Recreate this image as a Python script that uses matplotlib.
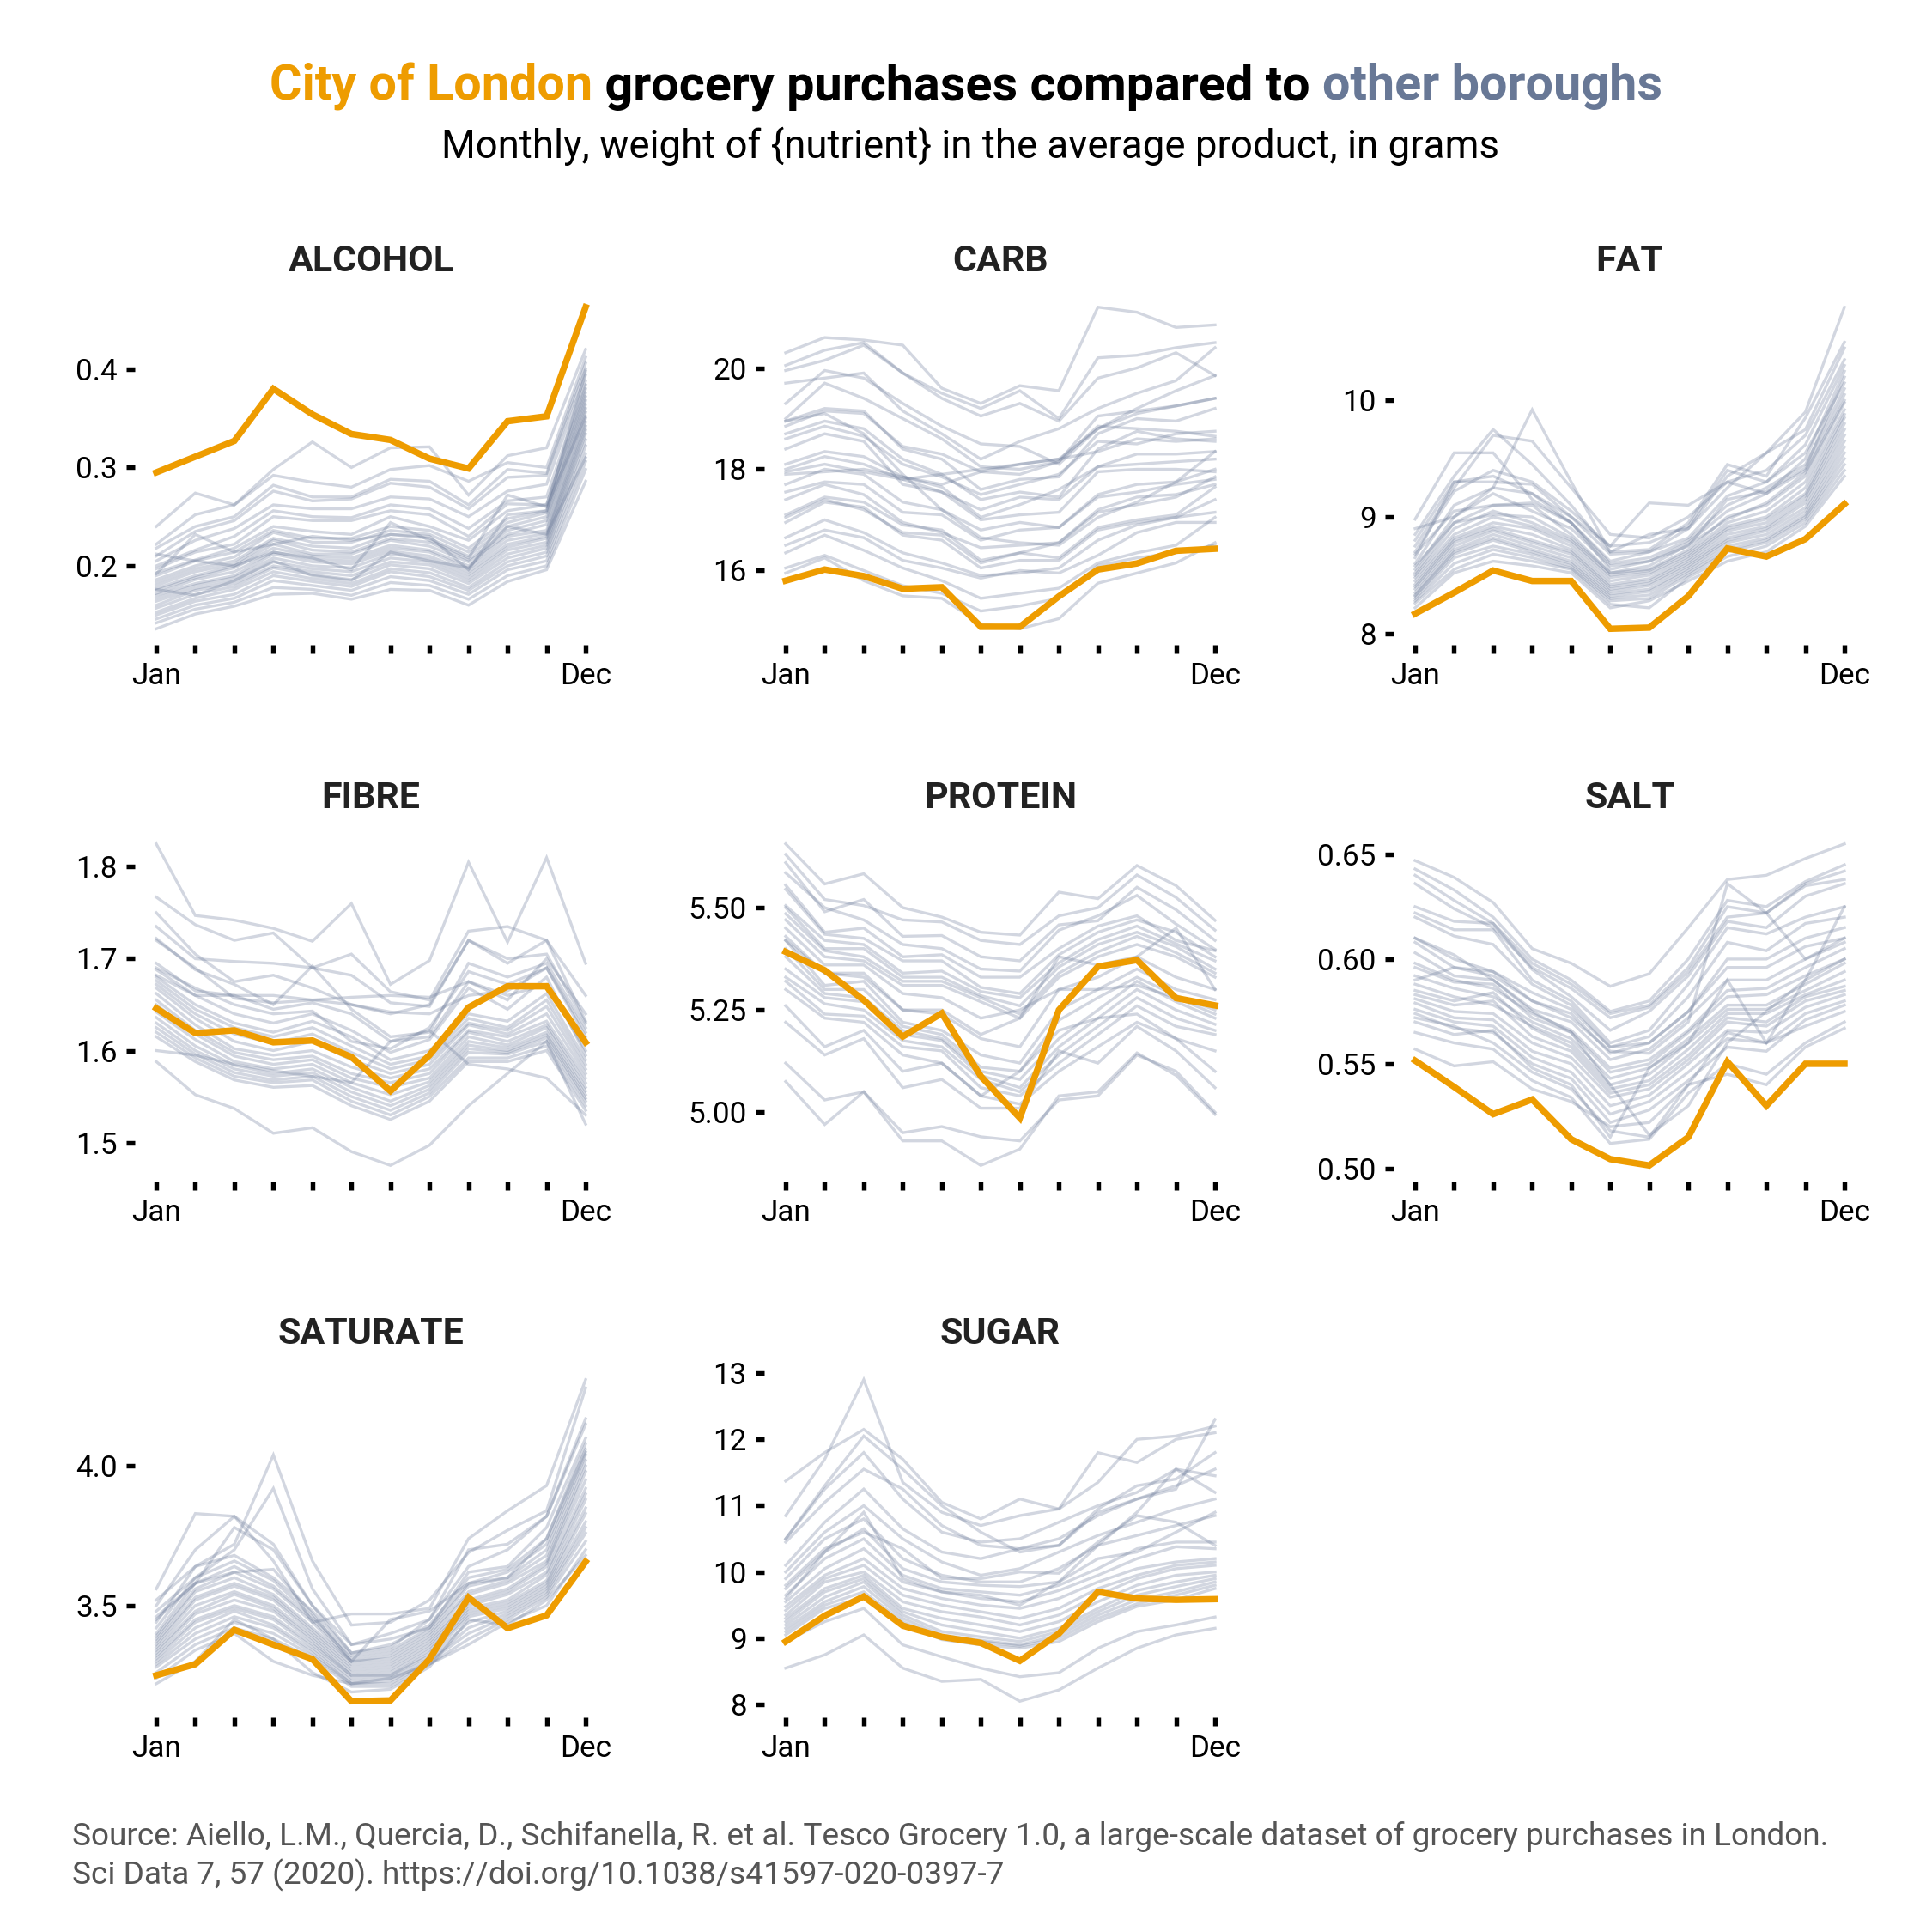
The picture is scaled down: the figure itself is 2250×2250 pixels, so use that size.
import matplotlib
matplotlib.use("Agg")
import matplotlib.pyplot as plt

# cores
ORANGE = "#EE9C00"
SLATE = "#687896"
GREY = "#6B7A99"

months = ["Jan", "Feb", "Mar", "Apr", "May", "Jun", "Jul", "Aug", "Sep", "Oct", "Nov", "Dec"]
month_labels = ["Jan", "", "", "", "", "", "", "", "", "", "", "Dec"]

# City of London, valores mensais
alcohol_city = [0.295, 0.311, 0.327, 0.380, 0.354, 0.334, 0.328, 0.309, 0.299, 0.347, 0.352, 0.463]
carb_city = [15.80, 16.02, 15.89, 15.64, 15.67, 14.89, 14.89, 15.49, 16.02, 16.14, 16.39, 16.43]
fat_city = [8.17, 8.35, 8.54, 8.45, 8.45, 8.04, 8.05, 8.32, 8.73, 8.66, 8.81, 9.11]
fibre_city = [1.646, 1.619, 1.622, 1.609, 1.611, 1.593, 1.556, 1.595, 1.647, 1.670, 1.670, 1.609]
protein_city = [5.392, 5.347, 5.274, 5.185, 5.242, 5.088, 4.986, 5.250, 5.356, 5.372, 5.279, 5.261]
salt_city = [0.5515, 0.539, 0.526, 0.533, 0.514, 0.5045, 0.5015, 0.515, 0.551, 0.530, 0.550, 0.550]
saturate_city = [3.25, 3.29, 3.413, 3.36, 3.308, 3.157, 3.16, 3.308, 3.529, 3.419, 3.465, 3.657]
sugar_city = [8.95, 9.34, 9.63, 9.19, 9.02, 8.93, 8.66, 9.07, 9.70, 9.60, 9.58, 9.59]

# outros boroughs
alcohol_others = [
    [0.240, 0.274, 0.262, 0.298, 0.326, 0.300, 0.320, 0.321, 0.272, 0.312, 0.320, 0.420],
    [0.222, 0.252, 0.262, 0.292, 0.285, 0.280, 0.298, 0.302, 0.286, 0.305, 0.300, 0.412],
    [0.218, 0.240, 0.250, 0.282, 0.270, 0.270, 0.288, 0.286, 0.262, 0.298, 0.294, 0.406],
    [0.210, 0.235, 0.246, 0.276, 0.266, 0.268, 0.284, 0.280, 0.258, 0.290, 0.292, 0.400],
    [0.205, 0.226, 0.238, 0.262, 0.258, 0.258, 0.270, 0.268, 0.250, 0.276, 0.283, 0.394],
    [0.200, 0.216, 0.230, 0.256, 0.250, 0.249, 0.262, 0.258, 0.238, 0.266, 0.270, 0.388],
    [0.197, 0.214, 0.222, 0.250, 0.246, 0.246, 0.256, 0.252, 0.230, 0.263, 0.262, 0.384],
    [0.193, 0.206, 0.218, 0.240, 0.235, 0.232, 0.250, 0.240, 0.226, 0.256, 0.262, 0.380],
    [0.190, 0.205, 0.214, 0.236, 0.228, 0.228, 0.240, 0.236, 0.218, 0.248, 0.256, 0.376],
    [0.186, 0.200, 0.209, 0.234, 0.224, 0.224, 0.236, 0.232, 0.214, 0.244, 0.254, 0.372],
    [0.183, 0.197, 0.205, 0.228, 0.220, 0.218, 0.232, 0.228, 0.210, 0.240, 0.250, 0.368],
    [0.180, 0.194, 0.202, 0.226, 0.216, 0.214, 0.228, 0.224, 0.206, 0.236, 0.246, 0.364],
    [0.177, 0.190, 0.200, 0.222, 0.212, 0.212, 0.226, 0.220, 0.204, 0.232, 0.242, 0.360],
    [0.175, 0.188, 0.198, 0.218, 0.210, 0.208, 0.221, 0.216, 0.200, 0.230, 0.236, 0.356],
    [0.172, 0.186, 0.194, 0.214, 0.207, 0.205, 0.218, 0.214, 0.197, 0.226, 0.233, 0.350],
    [0.170, 0.182, 0.190, 0.212, 0.204, 0.202, 0.215, 0.210, 0.194, 0.222, 0.230, 0.346],
    [0.167, 0.180, 0.188, 0.208, 0.200, 0.198, 0.212, 0.207, 0.191, 0.219, 0.228, 0.342],
    [0.164, 0.177, 0.185, 0.204, 0.197, 0.194, 0.208, 0.204, 0.188, 0.216, 0.224, 0.338],
    [0.160, 0.175, 0.182, 0.200, 0.194, 0.190, 0.204, 0.201, 0.185, 0.212, 0.221, 0.334],
    [0.157, 0.171, 0.179, 0.198, 0.191, 0.186, 0.201, 0.197, 0.182, 0.208, 0.218, 0.328],
    [0.153, 0.167, 0.176, 0.194, 0.187, 0.182, 0.197, 0.193, 0.178, 0.204, 0.214, 0.322],
    [0.150, 0.164, 0.171, 0.190, 0.184, 0.179, 0.194, 0.189, 0.175, 0.200, 0.210, 0.314],
    [0.146, 0.160, 0.167, 0.185, 0.180, 0.175, 0.189, 0.185, 0.171, 0.196, 0.205, 0.306],
    [0.142, 0.156, 0.163, 0.178, 0.176, 0.170, 0.183, 0.180, 0.166, 0.190, 0.200, 0.298],
    [0.136, 0.151, 0.159, 0.171, 0.172, 0.166, 0.176, 0.175, 0.160, 0.184, 0.196, 0.286],
    [0.212, 0.205, 0.200, 0.214, 0.208, 0.196, 0.244, 0.226, 0.208, 0.272, 0.260, 0.352],
    [0.192, 0.232, 0.214, 0.222, 0.230, 0.226, 0.232, 0.230, 0.196, 0.252, 0.256, 0.398],
    [0.176, 0.170, 0.185, 0.205, 0.190, 0.185, 0.214, 0.205, 0.198, 0.240, 0.232, 0.310],
]

carb_others = [
    [20.30, 20.60, 20.55, 20.45, 19.60, 19.30, 19.65, 19.55, 21.20, 21.10, 20.80, 20.85],
    [20.05, 20.35, 20.50, 19.90, 19.50, 19.20, 19.55, 19.00, 20.20, 20.25, 20.40, 20.50],
    [19.95, 20.15, 20.45, 19.90, 19.40, 19.05, 19.30, 18.95, 19.80, 20.00, 20.30, 19.85],
    [19.70, 19.80, 19.90, 19.15, 18.70, 18.20, 18.55, 18.80, 19.20, 19.50, 19.75, 20.40],
    [19.30, 19.95, 19.80, 19.30, 18.85, 18.50, 18.45, 18.10, 18.80, 19.20, 19.55, 19.85],
    [19.00, 19.70, 19.40, 19.00, 18.60, 18.05, 18.00, 18.15, 19.05, 19.15, 19.25, 19.40],
    [18.95, 19.20, 19.15, 18.40, 18.20, 17.60, 17.80, 17.85, 18.70, 19.00, 18.95, 19.20],
    [18.85, 19.15, 19.10, 18.45, 18.30, 17.95, 17.90, 18.15, 18.85, 18.80, 18.75, 18.65],
    [18.70, 18.95, 18.80, 18.20, 17.90, 17.40, 17.55, 17.45, 18.40, 18.75, 18.60, 18.55],
    [18.60, 18.85, 18.65, 18.10, 17.85, 17.50, 17.70, 17.90, 18.55, 18.50, 18.70, 18.75],
    [18.40, 18.70, 18.55, 17.70, 17.55, 17.20, 17.45, 17.40, 18.05, 18.30, 18.30, 18.35],
    [18.10, 18.35, 18.25, 17.85, 17.65, 17.05, 17.30, 17.60, 18.05, 18.10, 18.15, 18.20],
    [18.00, 18.25, 18.10, 17.80, 17.90, 18.00, 18.10, 18.20, 18.35, 18.60, 18.55, 18.60],
    [17.95, 18.10, 17.95, 17.80, 17.55, 17.00, 17.10, 17.15, 17.95, 18.00, 18.00, 17.95],
    [17.70, 18.00, 17.90, 17.35, 17.20, 16.80, 16.95, 16.85, 17.50, 17.70, 17.75, 18.00],
    [17.55, 17.75, 17.70, 17.15, 17.10, 16.60, 16.80, 16.85, 17.45, 17.55, 17.70, 17.80],
    [17.40, 17.70, 17.50, 16.95, 16.75, 16.45, 16.50, 16.55, 17.20, 17.45, 17.50, 17.70],
    [17.10, 17.45, 17.35, 16.90, 16.80, 16.20, 16.35, 16.55, 17.15, 17.30, 17.45, 17.85],
    [17.05, 17.40, 17.20, 16.75, 16.70, 16.15, 16.35, 16.25, 16.85, 17.00, 17.10, 17.65],
    [16.95, 17.35, 17.25, 16.70, 16.60, 16.05, 16.20, 16.20, 16.80, 16.95, 17.05, 17.40],
    [16.65, 17.00, 16.75, 16.35, 16.15, 15.90, 15.95, 16.05, 16.60, 16.90, 17.05, 17.15],
    [16.50, 16.80, 16.65, 16.20, 16.05, 15.85, 16.00, 15.95, 16.30, 16.75, 16.95, 16.95],
    [16.35, 16.70, 16.40, 16.05, 15.80, 15.45, 15.55, 15.65, 16.15, 16.35, 16.50, 17.05],
    [16.05, 16.30, 16.00, 15.70, 15.55, 15.20, 15.30, 15.45, 16.10, 16.25, 16.35, 16.50],
    [15.95, 16.25, 15.80, 15.50, 15.45, 14.95, 14.85, 15.05, 15.75, 15.95, 16.15, 16.55],
    [18.95, 19.10, 18.70, 17.90, 17.20, 16.65, 16.55, 16.50, 17.05, 17.35, 17.75, 18.35],
    [17.90, 17.95, 18.00, 17.85, 17.70, 17.95, 18.10, 18.20, 18.80, 19.10, 19.25, 19.40],
]

fat_others = [
    [8.98, 9.55, 9.55, 9.15, 8.95, 8.62, 8.70, 8.90, 9.25, 9.55, 9.90, 10.80],
    [8.85, 9.35, 9.75, 9.45, 9.10, 8.70, 8.72, 8.95, 9.45, 9.35, 9.85, 10.50],
    [8.90, 9.00, 9.25, 9.92, 9.30, 8.70, 8.85, 8.90, 9.35, 9.55, 9.75, 10.45],
    [8.75, 9.25, 9.70, 9.65, 9.25, 8.85, 8.82, 9.00, 9.30, 9.40, 9.70, 10.35],
    [8.70, 9.22, 9.40, 9.30, 9.05, 8.75, 9.12, 9.10, 9.30, 9.20, 9.50, 10.25],
    [8.65, 9.30, 9.35, 9.20, 9.00, 8.68, 8.70, 8.82, 9.18, 9.30, 9.55, 10.15],
    [8.60, 9.10, 9.25, 9.20, 8.95, 8.60, 8.65, 8.80, 9.10, 9.25, 9.45, 10.10],
    [8.55, 9.00, 9.20, 9.05, 8.90, 8.58, 8.62, 8.78, 9.05, 9.20, 9.40, 10.05],
    [8.52, 8.95, 9.10, 9.10, 8.85, 8.52, 8.55, 8.72, 9.00, 9.10, 9.35, 9.98],
    [8.50, 8.90, 9.05, 8.95, 8.80, 8.50, 8.54, 8.70, 8.95, 9.05, 9.30, 9.92],
    [8.48, 8.85, 9.00, 8.92, 8.78, 8.48, 8.52, 8.68, 8.92, 9.00, 9.25, 9.88],
    [8.45, 8.82, 8.95, 8.90, 8.75, 8.45, 8.50, 8.66, 8.90, 8.98, 9.20, 9.85],
    [8.42, 8.80, 8.92, 8.85, 8.72, 8.42, 8.47, 8.64, 8.88, 8.95, 9.18, 9.80],
    [8.40, 8.78, 8.90, 8.80, 8.70, 8.40, 8.45, 8.62, 8.85, 8.92, 9.15, 9.75],
    [8.38, 8.75, 8.88, 8.78, 8.68, 8.38, 8.43, 8.60, 8.82, 8.90, 9.12, 9.70],
    [8.35, 8.72, 8.85, 8.75, 8.65, 8.36, 8.41, 8.58, 8.80, 8.88, 9.08, 9.65],
    [8.33, 8.70, 8.82, 8.72, 8.62, 8.34, 8.38, 8.56, 8.78, 8.85, 9.05, 9.60],
    [8.32, 8.68, 8.80, 8.70, 8.60, 8.32, 8.36, 8.54, 8.75, 8.82, 9.02, 9.55],
    [8.30, 8.65, 8.75, 8.68, 8.58, 8.30, 8.33, 8.52, 8.72, 8.80, 9.00, 9.50],
    [8.28, 8.60, 8.72, 8.65, 8.56, 8.28, 8.30, 8.50, 8.70, 8.78, 8.98, 9.45],
    [8.26, 8.55, 8.68, 8.62, 8.55, 8.25, 8.22, 8.48, 8.66, 8.75, 8.95, 9.40],
    [8.22, 8.52, 8.62, 8.58, 8.52, 8.22, 8.28, 8.45, 8.62, 8.70, 8.92, 9.35],
    [8.80, 9.30, 9.30, 9.28, 9.00, 8.75, 8.78, 8.92, 9.40, 9.30, 9.62, 10.30],
    [8.68, 9.05, 9.10, 9.12, 8.95, 8.55, 8.62, 8.75, 9.15, 9.22, 9.42, 10.20],
    [8.58, 8.95, 9.02, 9.00, 8.82, 8.52, 8.58, 8.76, 8.98, 9.12, 9.38, 10.00],
]

fibre_others = [
    [1.825, 1.747, 1.742, 1.733, 1.719, 1.760, 1.672, 1.698, 1.805, 1.718, 1.810, 1.695],
    [1.767, 1.737, 1.720, 1.728, 1.690, 1.705, 1.664, 1.655, 1.730, 1.735, 1.720, 1.660],
    [1.750, 1.705, 1.675, 1.682, 1.668, 1.650, 1.640, 1.650, 1.720, 1.695, 1.720, 1.632],
    [1.735, 1.700, 1.697, 1.695, 1.690, 1.682, 1.652, 1.648, 1.720, 1.700, 1.705, 1.630],
    [1.722, 1.688, 1.672, 1.650, 1.692, 1.645, 1.615, 1.620, 1.695, 1.680, 1.695, 1.625],
    [1.720, 1.690, 1.657, 1.652, 1.655, 1.650, 1.642, 1.640, 1.660, 1.665, 1.690, 1.620],
    [1.695, 1.665, 1.660, 1.645, 1.652, 1.640, 1.610, 1.615, 1.675, 1.660, 1.672, 1.600],
    [1.688, 1.660, 1.640, 1.630, 1.640, 1.622, 1.598, 1.612, 1.668, 1.645, 1.680, 1.595],
    [1.680, 1.650, 1.630, 1.620, 1.632, 1.615, 1.590, 1.600, 1.640, 1.632, 1.662, 1.590],
    [1.676, 1.645, 1.625, 1.615, 1.625, 1.605, 1.585, 1.594, 1.635, 1.625, 1.655, 1.585],
    [1.672, 1.640, 1.618, 1.608, 1.618, 1.598, 1.580, 1.590, 1.630, 1.622, 1.648, 1.580],
    [1.668, 1.635, 1.610, 1.600, 1.610, 1.590, 1.575, 1.585, 1.628, 1.618, 1.640, 1.575],
    [1.662, 1.628, 1.602, 1.595, 1.600, 1.582, 1.570, 1.580, 1.622, 1.615, 1.632, 1.570],
    [1.655, 1.622, 1.598, 1.590, 1.594, 1.575, 1.565, 1.575, 1.620, 1.610, 1.628, 1.565],
    [1.650, 1.618, 1.594, 1.585, 1.590, 1.570, 1.560, 1.570, 1.615, 1.606, 1.625, 1.560],
    [1.642, 1.612, 1.588, 1.580, 1.585, 1.565, 1.552, 1.566, 1.610, 1.603, 1.620, 1.556],
    [1.636, 1.605, 1.584, 1.575, 1.580, 1.560, 1.545, 1.562, 1.606, 1.600, 1.617, 1.552],
    [1.630, 1.600, 1.580, 1.572, 1.576, 1.555, 1.540, 1.558, 1.602, 1.598, 1.614, 1.548],
    [1.625, 1.596, 1.576, 1.568, 1.572, 1.550, 1.535, 1.554, 1.598, 1.596, 1.610, 1.545],
    [1.620, 1.592, 1.572, 1.565, 1.568, 1.545, 1.530, 1.550, 1.592, 1.592, 1.605, 1.540],
    [1.615, 1.588, 1.568, 1.560, 1.562, 1.540, 1.525, 1.545, 1.588, 1.588, 1.600, 1.535],
    [1.600, 1.595, 1.585, 1.578, 1.572, 1.565, 1.610, 1.622, 1.585, 1.580, 1.570, 1.530],
    [1.588, 1.552, 1.537, 1.510, 1.516, 1.490, 1.475, 1.497, 1.540, 1.575, 1.610, 1.520],
    [1.690, 1.668, 1.650, 1.640, 1.643, 1.610, 1.602, 1.625, 1.686, 1.672, 1.690, 1.615],
    [1.682, 1.660, 1.660, 1.660, 1.655, 1.658, 1.660, 1.658, 1.675, 1.655, 1.700, 1.640],
]

protein_others = [
    [5.656, 5.558, 5.583, 5.500, 5.477, 5.440, 5.433, 5.538, 5.522, 5.603, 5.554, 5.469],
    [5.630, 5.520, 5.505, 5.470, 5.465, 5.420, 5.410, 5.480, 5.500, 5.580, 5.525, 5.445],
    [5.610, 5.490, 5.520, 5.430, 5.432, 5.380, 5.370, 5.458, 5.468, 5.550, 5.495, 5.420],
    [5.585, 5.500, 5.470, 5.410, 5.400, 5.350, 5.345, 5.445, 5.480, 5.530, 5.460, 5.398],
    [5.555, 5.440, 5.450, 5.380, 5.385, 5.330, 5.330, 5.400, 5.455, 5.480, 5.420, 5.395],
    [5.545, 5.435, 5.425, 5.370, 5.370, 5.305, 5.290, 5.385, 5.440, 5.470, 5.440, 5.380],
    [5.505, 5.420, 5.410, 5.340, 5.345, 5.295, 5.280, 5.365, 5.422, 5.455, 5.412, 5.370],
    [5.500, 5.400, 5.400, 5.330, 5.330, 5.285, 5.260, 5.355, 5.410, 5.440, 5.405, 5.350],
    [5.485, 5.395, 5.380, 5.320, 5.320, 5.280, 5.240, 5.340, 5.392, 5.430, 5.390, 5.340],
    [5.470, 5.380, 5.370, 5.310, 5.310, 5.270, 5.230, 5.330, 5.380, 5.410, 5.380, 5.330],
    [5.430, 5.340, 5.330, 5.250, 5.240, 5.180, 5.160, 5.300, 5.330, 5.380, 5.330, 5.300],
    [5.420, 5.310, 5.320, 5.220, 5.200, 5.140, 5.120, 5.250, 5.300, 5.350, 5.300, 5.275],
    [5.400, 5.300, 5.300, 5.210, 5.190, 5.110, 5.100, 5.225, 5.280, 5.330, 5.285, 5.250],
    [5.380, 5.290, 5.280, 5.200, 5.180, 5.100, 5.080, 5.180, 5.250, 5.320, 5.270, 5.230],
    [5.350, 5.280, 5.270, 5.190, 5.175, 5.090, 5.060, 5.160, 5.230, 5.300, 5.250, 5.215],
    [5.330, 5.265, 5.250, 5.175, 5.160, 5.080, 5.050, 5.140, 5.210, 5.280, 5.230, 5.200],
    [5.320, 5.240, 5.235, 5.160, 5.150, 5.060, 5.040, 5.120, 5.190, 5.260, 5.210, 5.190],
    [5.300, 5.230, 5.220, 5.140, 5.120, 5.040, 5.020, 5.100, 5.160, 5.220, 5.180, 5.150],
    [5.260, 5.160, 5.200, 5.100, 5.120, 5.040, 5.100, 5.200, 5.230, 5.240, 5.180, 5.100],
    [5.220, 5.140, 5.180, 5.060, 5.080, 5.010, 5.010, 5.150, 5.120, 5.210, 5.150, 5.060],
    [5.120, 5.030, 5.050, 4.950, 4.965, 4.940, 4.930, 5.030, 5.040, 5.140, 5.100, 5.000],
    [5.075, 4.970, 5.050, 4.930, 4.930, 4.870, 4.910, 5.040, 5.050, 5.145, 5.090, 4.995],
    [5.420, 5.340, 5.340, 5.250, 5.250, 5.190, 5.230, 5.380, 5.360, 5.380, 5.450, 5.300],
    [5.450, 5.360, 5.360, 5.290, 5.280, 5.230, 5.250, 5.300, 5.300, 5.310, 5.280, 5.240],
]

salt_others = [
    [0.647, 0.639, 0.627, 0.605, 0.598, 0.587, 0.593, 0.615, 0.638, 0.640, 0.648, 0.655],
    [0.643, 0.633, 0.620, 0.600, 0.590, 0.575, 0.580, 0.600, 0.628, 0.625, 0.637, 0.645],
    [0.640, 0.628, 0.617, 0.598, 0.588, 0.574, 0.578, 0.596, 0.625, 0.622, 0.636, 0.642],
    [0.636, 0.624, 0.615, 0.596, 0.586, 0.572, 0.577, 0.594, 0.620, 0.622, 0.635, 0.638],
    [0.625, 0.618, 0.617, 0.595, 0.582, 0.566, 0.575, 0.592, 0.618, 0.615, 0.630, 0.636],
    [0.622, 0.614, 0.614, 0.590, 0.580, 0.560, 0.566, 0.588, 0.615, 0.612, 0.620, 0.625],
    [0.620, 0.611, 0.607, 0.588, 0.578, 0.558, 0.563, 0.582, 0.608, 0.604, 0.617, 0.620],
    [0.610, 0.600, 0.594, 0.584, 0.576, 0.558, 0.560, 0.575, 0.600, 0.600, 0.610, 0.615],
    [0.608, 0.596, 0.594, 0.580, 0.574, 0.555, 0.560, 0.575, 0.596, 0.596, 0.606, 0.610],
    [0.603, 0.592, 0.590, 0.576, 0.570, 0.552, 0.557, 0.572, 0.590, 0.590, 0.600, 0.608],
    [0.598, 0.590, 0.586, 0.574, 0.566, 0.548, 0.552, 0.566, 0.585, 0.586, 0.596, 0.605],
    [0.596, 0.589, 0.588, 0.572, 0.565, 0.546, 0.550, 0.565, 0.582, 0.583, 0.592, 0.600],
    [0.592, 0.586, 0.582, 0.570, 0.562, 0.543, 0.548, 0.562, 0.578, 0.578, 0.588, 0.598],
    [0.588, 0.582, 0.578, 0.568, 0.560, 0.540, 0.545, 0.560, 0.576, 0.576, 0.585, 0.594],
    [0.585, 0.580, 0.584, 0.567, 0.558, 0.538, 0.542, 0.557, 0.574, 0.574, 0.583, 0.590],
    [0.583, 0.578, 0.580, 0.563, 0.556, 0.536, 0.540, 0.554, 0.572, 0.570, 0.582, 0.587],
    [0.581, 0.575, 0.574, 0.560, 0.553, 0.534, 0.538, 0.552, 0.570, 0.568, 0.580, 0.585],
    [0.579, 0.572, 0.571, 0.556, 0.550, 0.530, 0.535, 0.550, 0.566, 0.565, 0.577, 0.583],
    [0.576, 0.570, 0.568, 0.553, 0.546, 0.526, 0.532, 0.546, 0.562, 0.560, 0.574, 0.580],
    [0.574, 0.567, 0.565, 0.550, 0.543, 0.522, 0.528, 0.542, 0.558, 0.556, 0.571, 0.578],
    [0.572, 0.568, 0.560, 0.546, 0.538, 0.518, 0.515, 0.540, 0.565, 0.560, 0.568, 0.575],
    [0.565, 0.560, 0.557, 0.542, 0.534, 0.512, 0.514, 0.536, 0.550, 0.545, 0.560, 0.570],
    [0.557, 0.549, 0.551, 0.538, 0.532, 0.520, 0.522, 0.540, 0.545, 0.540, 0.558, 0.567],
    [0.610, 0.602, 0.590, 0.575, 0.565, 0.540, 0.516, 0.530, 0.560, 0.575, 0.590, 0.625],
    [0.590, 0.596, 0.592, 0.580, 0.572, 0.556, 0.555, 0.570, 0.636, 0.622, 0.600, 0.610],
    [0.570, 0.564, 0.566, 0.548, 0.540, 0.515, 0.548, 0.560, 0.590, 0.560, 0.590, 0.600],
]

saturate_others = [
    [3.56, 3.83, 3.82, 3.66, 3.44, 3.47, 3.47, 3.49, 3.74, 3.84, 3.93, 4.31],
    [3.52, 3.64, 3.72, 4.04, 3.66, 3.43, 3.44, 3.52, 3.69, 3.77, 3.84, 4.28],
    [3.48, 3.60, 3.70, 3.92, 3.56, 3.36, 3.40, 3.45, 3.64, 3.70, 3.82, 4.17],
    [3.46, 3.58, 3.78, 3.70, 3.50, 3.36, 3.38, 3.42, 3.62, 3.64, 3.78, 4.10],
    [3.44, 3.64, 3.68, 3.60, 3.48, 3.33, 3.36, 3.43, 3.60, 3.63, 3.74, 4.06],
    [3.42, 3.60, 3.66, 3.59, 3.46, 3.32, 3.34, 3.42, 3.58, 3.62, 3.72, 4.05],
    [3.40, 3.58, 3.64, 3.57, 3.45, 3.31, 3.33, 3.41, 3.57, 3.60, 3.70, 4.04],
    [3.39, 3.56, 3.62, 3.56, 3.44, 3.30, 3.32, 3.40, 3.55, 3.59, 3.68, 4.02],
    [3.38, 3.55, 3.60, 3.54, 3.42, 3.30, 3.31, 3.39, 3.54, 3.58, 3.66, 4.00],
    [3.37, 3.53, 3.58, 3.53, 3.41, 3.29, 3.30, 3.38, 3.52, 3.56, 3.65, 3.98],
    [3.36, 3.52, 3.57, 3.52, 3.40, 3.28, 3.29, 3.37, 3.51, 3.55, 3.64, 3.95],
    [3.35, 3.50, 3.55, 3.50, 3.39, 3.27, 3.28, 3.36, 3.50, 3.54, 3.62, 3.92],
    [3.34, 3.48, 3.54, 3.49, 3.38, 3.26, 3.27, 3.35, 3.49, 3.52, 3.61, 3.90],
    [3.33, 3.47, 3.52, 3.48, 3.37, 3.25, 3.26, 3.34, 3.48, 3.51, 3.59, 3.88],
    [3.32, 3.45, 3.50, 3.46, 3.36, 3.25, 3.25, 3.33, 3.47, 3.50, 3.58, 3.85],
    [3.31, 3.44, 3.49, 3.45, 3.35, 3.24, 3.25, 3.32, 3.46, 3.49, 3.57, 3.83],
    [3.30, 3.42, 3.48, 3.43, 3.34, 3.23, 3.24, 3.31, 3.44, 3.48, 3.56, 3.80],
    [3.29, 3.40, 3.46, 3.42, 3.33, 3.22, 3.23, 3.30, 3.42, 3.47, 3.55, 3.78],
    [3.28, 3.38, 3.44, 3.40, 3.32, 3.22, 3.22, 3.30, 3.40, 3.46, 3.54, 3.76],
    [3.26, 3.36, 3.42, 3.38, 3.31, 3.21, 3.21, 3.29, 3.38, 3.45, 3.53, 3.73],
    [3.24, 3.34, 3.40, 3.30, 3.25, 3.22, 3.24, 3.29, 3.36, 3.44, 3.50, 3.70],
    [3.22, 3.30, 3.45, 3.38, 3.26, 3.19, 3.20, 3.28, 3.45, 3.43, 3.52, 3.68],
    [3.50, 3.70, 3.82, 3.72, 3.50, 3.33, 3.35, 3.45, 3.70, 3.72, 3.82, 4.15],
    [3.45, 3.58, 3.62, 3.63, 3.47, 3.30, 3.45, 3.48, 3.58, 3.60, 3.74, 4.08],
]

sugar_others = [
    [11.37, 11.80, 12.15, 11.70, 11.05, 10.80, 11.10, 10.95, 11.80, 11.65, 12.00, 12.10],
    [10.85, 11.70, 12.90, 11.35, 10.90, 10.70, 10.85, 10.95, 11.35, 12.00, 12.05, 12.20],
    [10.50, 11.30, 12.05, 11.55, 11.00, 10.60, 10.30, 10.40, 10.90, 11.10, 11.25, 12.30],
    [10.50, 11.25, 11.80, 11.10, 10.60, 10.45, 10.50, 10.75, 11.00, 11.20, 11.55, 11.20],
    [10.45, 11.05, 11.55, 11.25, 10.70, 10.40, 10.35, 10.40, 10.95, 11.30, 11.40, 11.80],
    [10.10, 10.75, 11.25, 10.65, 10.30, 10.20, 10.35, 10.50, 10.85, 11.10, 11.30, 11.55],
    [10.00, 10.60, 11.00, 10.50, 10.15, 9.95, 10.05, 10.30, 10.55, 10.75, 10.95, 11.10],
    [9.90, 10.50, 10.80, 10.20, 9.95, 9.85, 9.85, 10.05, 10.40, 10.55, 10.70, 10.85],
    [9.75, 10.30, 10.65, 10.05, 9.85, 9.80, 9.78, 9.85, 10.20, 10.30, 10.60, 10.90],
    [9.65, 10.20, 10.50, 9.95, 9.75, 9.70, 9.65, 9.80, 10.05, 10.35, 10.45, 10.45],
    [9.55, 10.05, 10.35, 9.85, 9.70, 9.60, 9.55, 9.72, 9.95, 10.20, 10.38, 10.35],
    [9.48, 9.95, 10.20, 9.75, 9.60, 9.50, 9.45, 9.60, 9.85, 10.05, 10.15, 10.20],
    [9.42, 9.90, 10.10, 9.65, 9.50, 9.40, 9.30, 9.45, 9.75, 9.95, 10.10, 10.15],
    [9.35, 9.85, 10.00, 9.55, 9.40, 9.32, 9.20, 9.35, 9.65, 9.90, 10.05, 10.10],
    [9.30, 9.75, 9.95, 9.45, 9.30, 9.20, 9.10, 9.25, 9.55, 9.80, 9.95, 10.00],
    [9.25, 9.70, 9.90, 9.40, 9.20, 9.10, 9.00, 9.15, 9.45, 9.72, 9.85, 9.95],
    [9.20, 9.62, 9.85, 9.35, 9.10, 9.02, 8.95, 9.10, 9.40, 9.65, 9.78, 9.90],
    [9.15, 9.55, 9.78, 9.30, 9.05, 8.97, 8.90, 9.05, 9.35, 9.58, 9.70, 9.85],
    [9.10, 9.50, 9.70, 9.25, 9.00, 8.95, 8.88, 9.00, 9.30, 9.52, 9.65, 9.80],
    [9.05, 9.45, 9.62, 9.22, 8.98, 8.90, 8.85, 8.95, 9.25, 9.48, 9.58, 9.75],
    [8.95, 9.25, 9.45, 8.90, 8.72, 8.55, 8.42, 8.48, 8.85, 9.10, 9.20, 9.32],
    [8.55, 8.75, 9.05, 8.55, 8.35, 8.38, 8.05, 8.22, 8.55, 8.85, 9.05, 9.15],
    [9.60, 10.30, 10.90, 9.90, 9.70, 9.65, 9.50, 9.85, 10.40, 10.90, 11.55, 11.45],
    [9.80, 10.35, 10.60, 10.35, 9.90, 9.90, 10.00, 9.98, 10.45, 10.85, 10.75, 10.40],
]

# nome, cidade, outros, ticks, labels
panels = [
    ("ALCOHOL", alcohol_city, alcohol_others, [0.2, 0.3, 0.4], ["0.2", "0.3", "0.4"]),
    ("CARB", carb_city, carb_others, [16, 18, 20], ["16", "18", "20"]),
    ("FAT", fat_city, fat_others, [8, 9, 10], ["8", "9", "10"]),
    ("FIBRE", fibre_city, fibre_others, [1.5, 1.6, 1.7, 1.8], ["1.5", "1.6", "1.7", "1.8"]),
    ("PROTEIN", protein_city, protein_others, [5.0, 5.25, 5.5], ["5.00", "5.25", "5.50"]),
    ("SALT", salt_city, salt_others, [0.50, 0.55, 0.60, 0.65], ["0.50", "0.55", "0.60", "0.65"]),
    ("SATURATE", saturate_city, saturate_others, [3.5, 4.0], ["3.5", "4.0"]),
    ("SUGAR", sugar_city, sugar_others, [8, 9, 10, 11, 12, 13], ["8", "9", "10", "11", "12", "13"]),
]

plt.rcParams['font.family'] = ['Roboto', 'DejaVu Sans']

fig = plt.figure(figsize=(7.5, 7.5), dpi=300)
W = 2250.0

# posicao dos paineis em pixels
col_left = [157, 890, 1623]
row_top = [339, 964, 1588]
pw, ph = 550, 412

x = list(range(12))
for i, (name, city, others, yt, ylab) in enumerate(panels):
    r, c = divmod(i, 3)
    ax = fig.add_axes([col_left[c] / W, 1 - (row_top[r] + ph) / W, pw / W, ph / W])
    for line in others:
        ax.plot(x, line, color=GREY, alpha=0.3, lw=0.8, solid_joinstyle='miter')
    ax.plot(x, city, color=ORANGE, lw=1.8, solid_joinstyle='miter')
    ax.set_xticks(x)
    ax.set_xticklabels(month_labels)
    ax.set_yticks(yt)
    ax.set_yticklabels(ylab)
    ax.tick_params(axis='both', length=2.5, width=1.3, color='black', labelsize=8.4, labelcolor='black')
    ax.tick_params(axis='y', pad=2.4)
    ax.tick_params(axis='x', pad=2.4)
    for s in ax.spines.values():
        s.set_visible(False)
    ax.set_title(name, fontsize=10.3, fontweight='bold', color='#222222', pad=5.5)

# titulo com tres cores
renderer = fig.canvas.get_renderer()
parts = [("City of London", ORANGE), (" grocery purchases compared to ", "black"), ("other boroughs", SLATE)]
texts = [fig.text(0, 1 - 101 / W, s, color=col, fontsize=13.8, fontweight='bold', va='center', ha='left')
         for s, col in parts]
widths = [t.get_window_extent(renderer).width for t in texts]
pos = (fig.bbox.width - sum(widths)) / 2
for t, w in zip(texts, widths):
    t.set_x(pos / fig.bbox.width)
    pos += w

fig.text(0.502, 1 - 170 / W, "Monthly, weight of {nutrient} in the average product, in grams",
         fontsize=10.95, ha='center', va='center', color='black')

fig.text(84 / W, 1 - 2139 / W,
         "Source: Aiello, L.M., Quercia, D., Schifanella, R. et al. Tesco Grocery 1.0, a large-scale dataset of grocery purchases in London.",
         fontsize=8.9, color='#555555', ha='left', va='center')
fig.text(84 / W, 1 - 2184 / W,
         "Sci Data 7, 57 (2020). https://doi.org/10.1038/s41597-020-0397-7",
         fontsize=8.9, color='#555555', ha='left', va='center')

fig.savefig("out.png", dpi=300, facecolor='white')
